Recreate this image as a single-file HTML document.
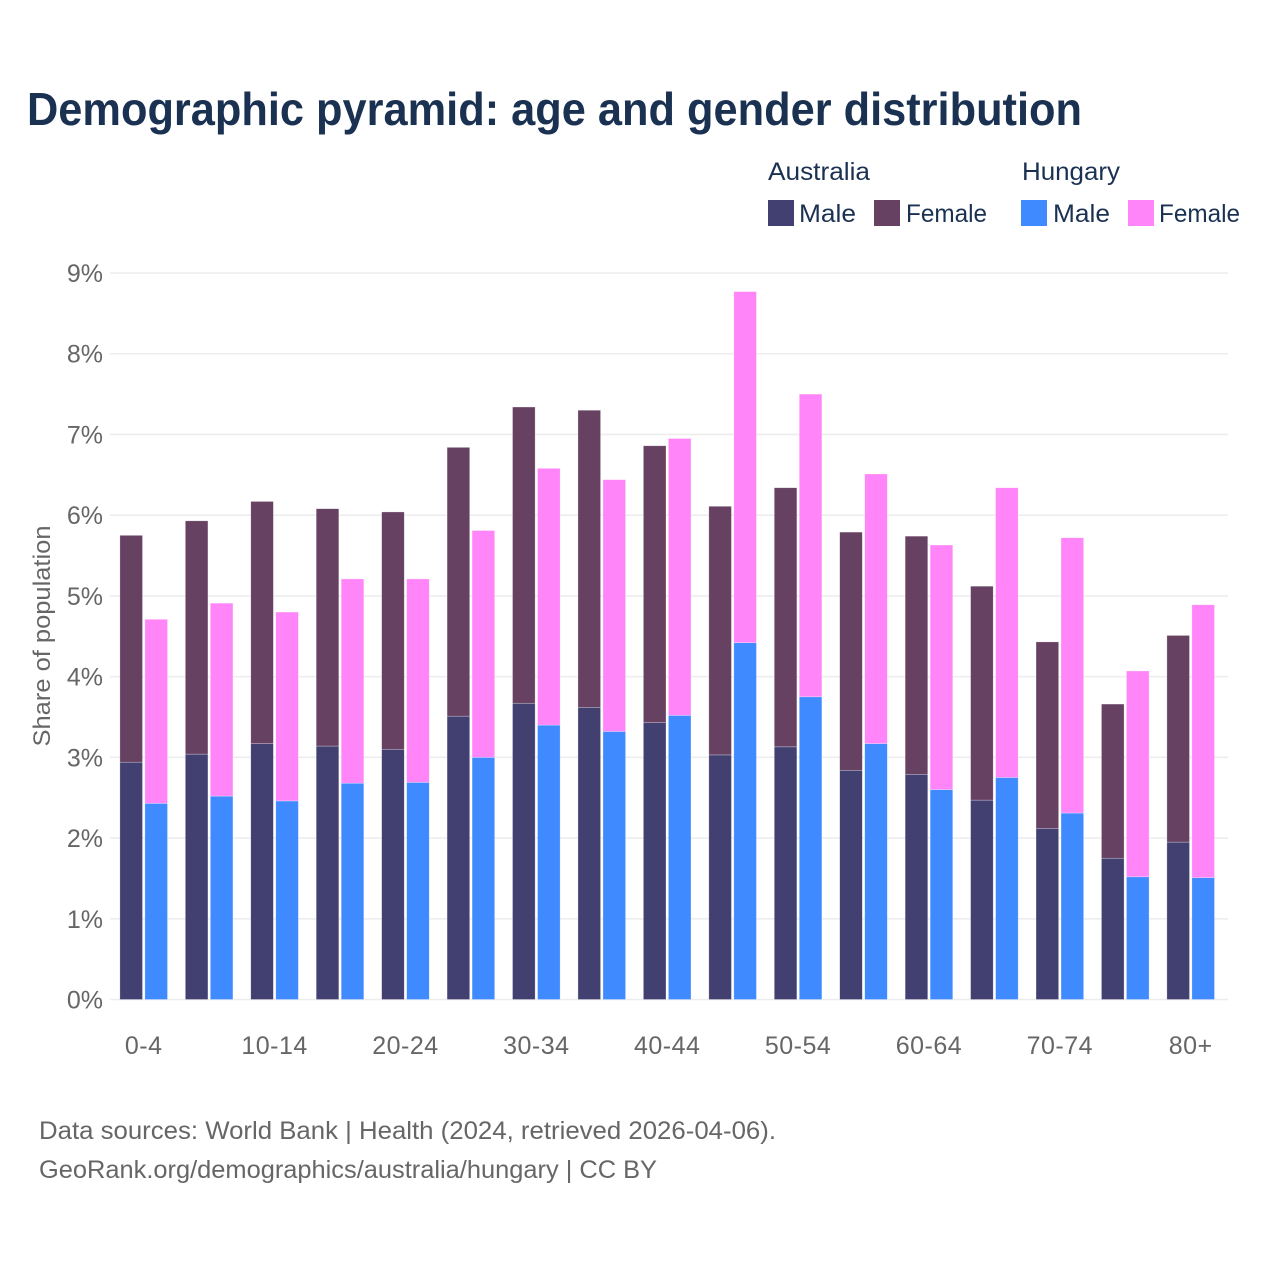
<!DOCTYPE html>
<html lang="en">
<head>
<meta charset="utf-8">
<title>Demographic pyramid</title>
<style>
html,body{margin:0;padding:0;background:#fff;width:1280px;height:1280px;overflow:hidden}
svg{display:block;font-family:"Liberation Sans",sans-serif}
</style>
</head>
<body>
<svg id="chart" width="1280" height="1280" viewBox="0 0 1280 1280" xmlns="http://www.w3.org/2000/svg">
  <rect width="1280" height="1280" fill="#fff"/>
  <text x="27" y="125" font-size="46" font-weight="700" fill="#1a3152" textLength="1055" lengthAdjust="spacingAndGlyphs">Demographic pyramid: age and gender distribution</text>

  <g font-size="25" fill="#1a3152">
    <text x="768" y="180" textLength="102" lengthAdjust="spacingAndGlyphs">Australia</text>
    <text x="1022" y="180" textLength="98" lengthAdjust="spacingAndGlyphs">Hungary</text>
    <rect x="768" y="200" width="26" height="26" fill="#423f71"/>
    <text x="799" y="222" textLength="57" lengthAdjust="spacingAndGlyphs">Male</text>
    <rect x="874" y="200" width="26" height="26" fill="#674162"/>
    <text x="906" y="222" textLength="81" lengthAdjust="spacingAndGlyphs">Female</text>
    <rect x="1021" y="200" width="26" height="26" fill="#408aff"/>
    <text x="1053" y="222" textLength="57" lengthAdjust="spacingAndGlyphs">Male</text>
    <rect x="1128" y="200" width="26" height="26" fill="#ff85f8"/>
    <text x="1159" y="222" textLength="81" lengthAdjust="spacingAndGlyphs">Female</text>
  </g>

  <g id="grid"></g>
  <g id="yticks"></g>
  <g id="bars"></g>
  <g id="xticks"></g>

  <text transform="translate(50,636) rotate(-90)" text-anchor="middle" font-size="24" fill="#666" textLength="221" lengthAdjust="spacingAndGlyphs">Share of population</text>

  <g font-size="25" fill="#666">
    <text x="39" y="1139" textLength="737" lengthAdjust="spacingAndGlyphs">Data sources: World Bank | Health (2024, retrieved 2026-04-06).</text>
    <text x="39" y="1178" textLength="618" lengthAdjust="spacingAndGlyphs">GeoRank.org/demographics/australia/hungary | CC BY</text>
  </g>
</svg>
<script>
const categories = ["0-4","5-9","10-14","15-19","20-24","25-29","30-34","35-39","40-44","45-49","50-54","55-59","60-64","65-69","70-74","75-79","80+"];
const tickedCategories = ["0-4","10-14","20-24","30-34","40-44","50-54","60-64","70-74","80+"];
const yTicks = [0,1,2,3,4,5,6,7,8,9];
const australiaMale = [2.94,3.04,3.17,3.14,3.10,3.51,3.67,3.62,3.43,3.03,3.13,2.84,2.79,2.47,2.12,1.75,1.95];
const australiaFemale = [2.81,2.89,3.00,2.94,2.94,3.33,3.67,3.68,3.43,3.08,3.21,2.95,2.95,2.65,2.31,1.91,2.56];
const hungaryMale = [2.43,2.52,2.46,2.68,2.69,3.00,3.40,3.32,3.52,4.42,3.75,3.17,2.60,2.75,2.31,1.52,1.51];
const hungaryFemale = [2.28,2.39,2.34,2.53,2.52,2.81,3.18,3.12,3.43,4.35,3.75,3.34,3.03,3.59,3.41,2.55,3.38];

const NS = "http://www.w3.org/2000/svg";
const yScale = v => 999.5 - v * 80.72;
const xBand = i => 143.7 + i * (1190.7 - 143.7) / (categories.length - 1);
const barWidth = 22.6;
const barGap = 2.4;

function make(tag, attrs, parent, text) {
  const el = document.createElementNS(NS, tag);
  for (const k in attrs) el.setAttribute(k, attrs[k]);
  if (text !== undefined) el.textContent = text;
  parent.appendChild(el);
  return el;
}

const grid = document.getElementById("grid");
const yTickGroup = document.getElementById("yticks");
yTicks.forEach(t => {
  const line = make("line", {x1:110, x2:1228, y1:yScale(t), y2:yScale(t), stroke:"#ededed", "stroke-width":1.6}, grid);
  
  
  const label = make("text", {x:103, y:yScale(t)+9, "text-anchor":"end", "font-size":25, fill:"#666"}, yTickGroup, t + "%");
  
  
});

const barsGroup = document.getElementById("bars");
function drawSegment(x, base, value, fill, name) {
  const rect = make("rect", {x:x, y:yScale(base+value), width:barWidth, height:yScale(base)-yScale(base+value), fill:fill, stroke:"#fff", "stroke-opacity":0.45, "stroke-width":0.6}, barsGroup);
  
  
}
categories.forEach((c, i) => {
  const cx = xBand(i);
  const xa = cx - barWidth - barGap / 2;
  const xh = cx + barGap / 2;
  drawSegment(xa, 0, australiaMale[i], "#423f71", "bar-australia-male");
  drawSegment(xa, australiaMale[i], australiaFemale[i], "#674162", "bar-australia-female");
  drawSegment(xh, 0, hungaryMale[i], "#408aff", "bar-hungary-male");
  drawSegment(xh, hungaryMale[i], hungaryFemale[i], "#ff85f8", "bar-hungary-female");
});

const xTickGroup = document.getElementById("xticks");
categories.forEach((c, i) => {
  if (!tickedCategories.includes(c)) return;
  const label = make("text", {x:xBand(i), y:1054, "text-anchor":"middle", "font-size":25, "letter-spacing":0.5, fill:"#666"}, xTickGroup, c);
  
  
});
</script>
</body>
</html>
